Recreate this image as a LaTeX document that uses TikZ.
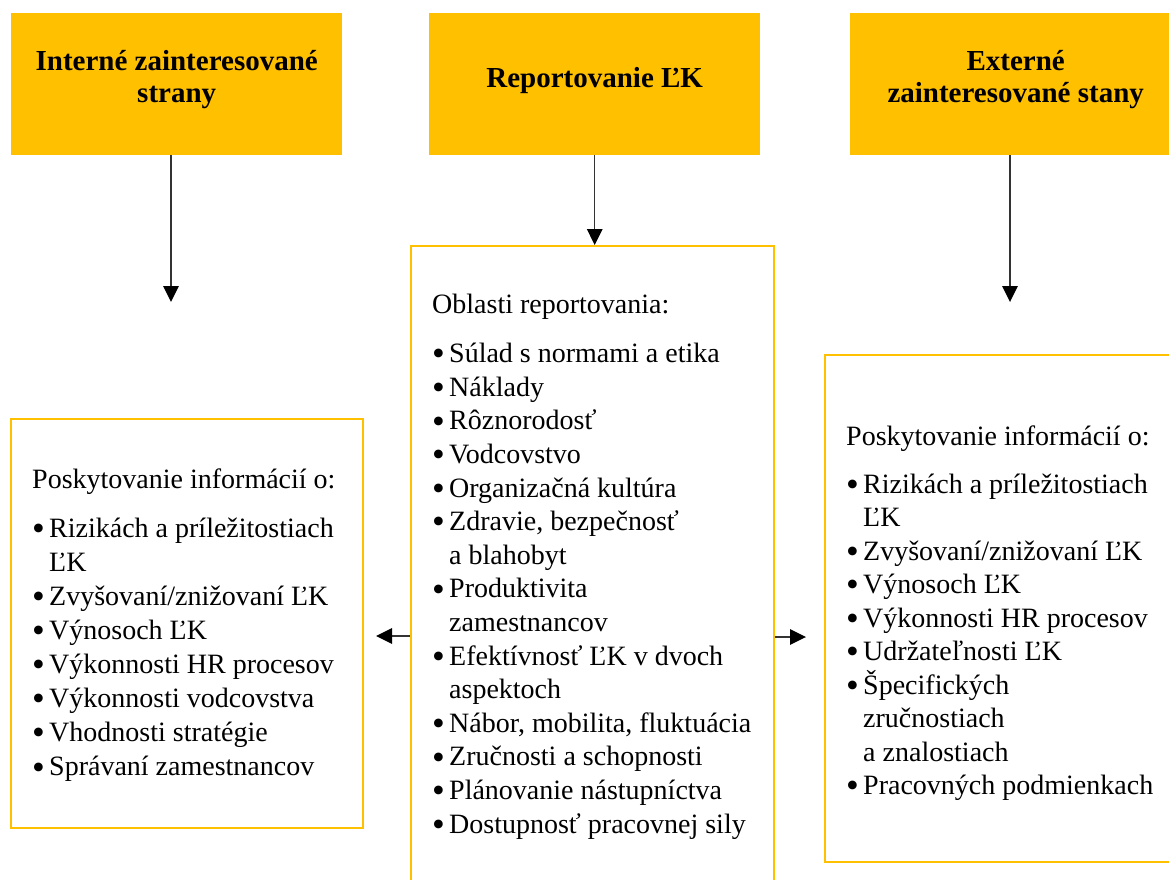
\documentclass[tikz,border=0pt]{standalone}
\usepackage{fontspec}
\setmainfont{Liberation Serif}
\usetikzlibrary{arrows.meta}
\definecolor{gold}{HTML}{FFC000}
\newcommand{\bul}{\makebox[17pt][l]{\smash{\raisebox{-3.2pt}{\scalebox{1.3}{\textbullet}}}}}
\newcommand{\cont}{\hspace*{17pt}}
\begin{document}
\begin{tikzpicture}[x=1pt,y=-1pt,
  hdr/.style={fill=gold, minimum width=331pt, minimum height=142pt, anchor=north west, inner sep=0pt,
    font=\fontsize{29}{32}\selectfont\bfseries},
  panel/.style={draw=gold, line width=2pt, anchor=north west, inner sep=0pt},
  body/.style={anchor=base west, inner sep=0pt},
  arr/.style={-{Triangle[length=16pt,width=15.5pt,color=black]}, line width=1.4pt, draw=black!80}
]
\useasboundingbox (0,0) rectangle (1169,879);

% header boxes
\node[hdr, text height=10pt, text depth=38pt] (t1) at (11,13)
  {\begin{tabular}[t]{@{}c@{}}Interné zainteresované\\strany\end{tabular}};
\node[hdr, text height=20pt, text depth=14pt] (t2) at (429,13)
  {\begin{tabular}[t]{@{}c@{}}Reportovanie ĽK\end{tabular}};
\node[hdr, text height=10pt, text depth=38pt] (t3) at (850,13)
  {\begin{tabular}[t]{@{}c@{}}Externé\\zainteresované stany\end{tabular}};

% panels
\node[panel, minimum width=352pt, minimum height=409pt] (b1) at (10,418) {};
\node[panel, minimum width=363pt, minimum height=700pt] (b2) at (410,245) {};
\node[panel, minimum width=400pt, minimum height=507pt] (b3) at (824,354) {};

% panel texts
\node[body, font=\fontsize{28}{34.1}\selectfont] (x1) at (32,488)
  {\begin{tabular}[t]{@{}l@{}}
   Poskytovanie informácií o:\\[15pt]
   \bul Rizikách a príležitostiach\\
   \cont ĽK\\
   \bul Zvyšovaní/znižovaní ĽK\\
   \bul Výnosoch ĽK\\
   \bul Výkonnosti HR procesov\\
   \bul Výkonnosti vodcovstva\\
   \bul Vhodnosti stratégie\\
   \bul Správaní zamestnancov
  \end{tabular}};
\node[body, font=\fontsize{28}{33.6}\selectfont] (x2) at (432,313)
  {\begin{tabular}[t]{@{}l@{}}
   Oblasti reportovania:\\[16pt]
   \bul Súlad s normami a etika\\
   \bul Náklady\\
   \bul Rôznorodosť\\
   \bul Vodcovstvo\\
   \bul Organizačná kultúra\\
   \bul Zdravie, bezpečnosť\\
   \cont a blahobyt\\
   \bul Produktivita\\
   \cont zamestnancov\\
   \bul Efektívnosť ĽK v dvoch\\
   \cont aspektoch\\
   \bul Nábor, mobilita, fluktuácia\\
   \bul Zručnosti a schopnosti\\
   \bul Plánovanie nástupníctva\\
   \bul Dostupnosť pracovnej sily
  \end{tabular}};
\node[body, font=\fontsize{28}{33.4}\selectfont] (x3) at (846,445)
  {\begin{tabular}[t]{@{}l@{}}
   Poskytovanie informácií o:\\[15pt]
   \bul Rizikách a príležitostiach\\
   \cont ĽK\\
   \bul Zvyšovaní/znižovaní ĽK\\
   \bul Výnosoch ĽK\\
   \bul Výkonnosti HR procesov\\
   \bul Udržateľnosti ĽK\\
   \bul Špecifických\\
   \cont zručnostiach\\
   \cont a znalostiach\\
   \bul Pracovných podmienkach
  \end{tabular}};

% connectors
\coordinate (e1) at (171,302);
\coordinate (e3) at (1010,302);
\coordinate (e4) at (376,636);
\coordinate (e5) at (806,637);
\draw[arr] (t1.south -| e1) -- (e1);
\draw[arr] (t2.south) -- (t2.south |- b2.north);
\draw[arr] (t3.south -| e3) -- (e3);
\draw[arr] (b2.west |- e4) -- (e4);
\draw[arr] (b2.east |- e5) -- (e5);
\end{tikzpicture}
\end{document}
